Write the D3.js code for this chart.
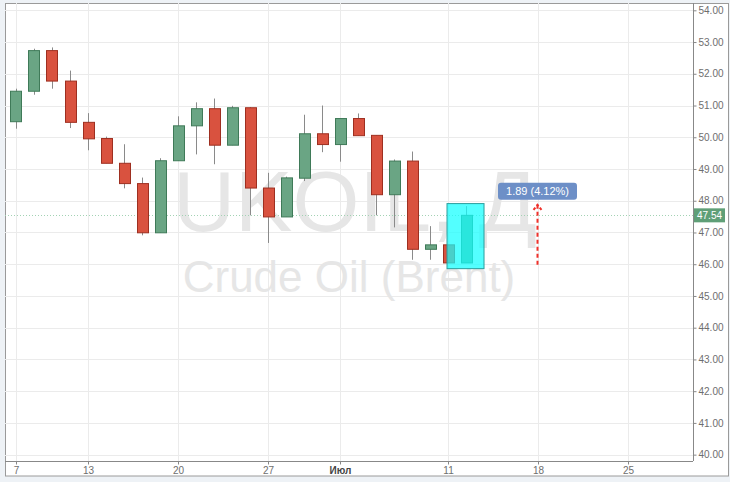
<!DOCTYPE html>
<html>
<head>
<meta charset="utf-8">
<script src="https://cdn.jsdelivr.net/npm/d3@7"></script>
<style>
  html, body { margin: 0; padding: 0; background: #eef2f6; }
  svg { display: block; }
</style>
</head>
<body>
<svg id="chart" width="730" height="482"></svg>
<script>
// candles (UKOIL daily)
const dates = ["06-07","06-08","06-09","06-10","06-13","06-14","06-15","06-16","06-17",
  "06-20","06-21","06-22","06-23","06-24","06-27","06-28","06-29","06-30","07-01",
  "07-04","07-05","07-06","07-07","07-08","07-11","07-12"];
const opens  = [50.49,51.45,52.73,51.77,50.47,49.96,49.18,48.54,46.99,49.26,50.36,50.90,49.75,
  50.93,48.40,47.49,48.71,50.11,49.77,50.59,50.06,48.19,49.25,46.47,46.61,46.04];
const highs  = [51.53,52.79,52.83,52.10,50.76,50.02,49.78,48.73,49.34,50.66,51.10,51.22,50.99,
  50.95,48.88,48.76,50.71,51.00,50.59,50.75,50.06,49.30,49.55,47.20,46.61,47.83];
const lows   = [50.27,51.34,51.53,50.29,49.59,49.18,48.39,46.91,46.99,49.26,49.46,49.15,49.75,
  47.54,46.67,47.49,48.62,49.53,49.23,50.05,47.54,47.16,46.14,46.14,46.04,46.04];
const closes = [51.45,52.73,51.77,50.47,49.95,49.18,48.54,46.99,49.26,50.36,50.90,49.75,50.93,
  48.40,47.49,48.72,50.11,49.77,50.59,50.05,48.19,49.25,46.47,46.61,46.04,47.54];

// x axis: trading-day index of each label
const tickIdx = [0, 4, 9, 14, 18, 24, 29, 34];
const tickLabels = ["7", "13", "20", "27", "Июл", "11", "18", "25"];
const priceTicks = [40,41,42,43,44,45,46,47,48,49,50,51,52,53,54];

const lastPrice = 47.54;
// drawing objects
const boxFrom = 24, boxTo = 26, boxTop = 47.91, boxBottom = 45.86;
const measureIdx = 29, measureFrom = 45.98, measureTo = 47.87;
const measureText = "1.89 (4.12%)";

const svg = d3.select("#chart");
const plotLeft = 5, plotRight = 693, plotTop = 3, plotBottom = 461;
const axisFont = "'Liberation Sans Narrow', 'Liberation Sans', Arial, sans-serif";

const x = d3.scaleLinear().domain([-0.611, 37.61]).range([plotLeft, plotRight]);
const y = d3.scaleLinear().domain([39.8, 54.23]).range([plotBottom, plotTop]);

// frame
svg.append("rect")
  .attr("x", 5.5).attr("y", 3.5).attr("width", 723).attr("height", 472.5)
  .attr("fill", "#fff").attr("stroke", "#9a9a9a");

// grid
svg.append("g").selectAll("line")
  .data(priceTicks)
  .join("line")
  .attr("x1", plotLeft).attr("x2", plotRight)
  .attr("y1", d => Math.round(y(d)) + 0.5).attr("y2", d => Math.round(y(d)) + 0.5)
  .attr("stroke", "#ebebeb");

svg.append("g").selectAll("line")
  .data(tickIdx)
  .join("line")
  .attr("x1", d => Math.round(x(d)) + 0.5).attr("x2", d => Math.round(x(d)) + 0.5)
  .attr("y1", plotTop).attr("y2", plotBottom)
  .attr("stroke", "#ebebeb");

// watermark
svg.append("text")
  .attr("x", 355).attr("y", 231)
  .attr("text-anchor", "middle")
  .style("font-family", "'Liberation Sans', Arial, sans-serif")
  .style("font-size", "86px")
  .style("fill", "#e6e6e6")
  .text("UKOIL, Д");

svg.append("text")
  .attr("x", 349).attr("y", 292)
  .attr("text-anchor", "middle")
  .style("font-family", "'Liberation Sans', Arial, sans-serif")
  .style("font-size", "44px")
  .style("fill", "#e6e6e6")
  .text("Crude Oil (Brent)");

// current price line
svg.append("line")
  .attr("x1", plotLeft).attr("x2", plotRight)
  .attr("y1", Math.round(y(lastPrice)) + 0.5).attr("y2", Math.round(y(lastPrice)) + 0.5)
  .attr("stroke", "#a3d2b4")
  .attr("stroke-dasharray", "1,2");

// candles
const candles = dates.map((d, i) => ({ i, o: opens[i], h: highs[i], l: lows[i], c: closes[i] }));
const bw = 11;

const cg = svg.append("g");
cg.selectAll("line")
  .data(candles)
  .join("line")
  .attr("x1", d => Math.round(x(d.i)) + 0.5).attr("x2", d => Math.round(x(d.i)) + 0.5)
  .attr("y1", d => y(d.h)).attr("y2", d => y(d.l))
  .attr("stroke", "#8a8a8a");

cg.selectAll("rect")
  .data(candles)
  .join("rect")
  .attr("x", d => Math.round(x(d.i) - bw / 2) + 0.5)
  .attr("y", d => y(Math.max(d.o, d.c)))
  .attr("width", bw)
  .attr("height", d => Math.max(1, y(Math.min(d.o, d.c)) - y(Math.max(d.o, d.c))))
  .attr("fill", d => d.c >= d.o ? "#6aa584" : "#d9523f")
  .attr("stroke", d => d.c >= d.o ? "#3f7a58" : "#9e2f20");

// highlight box
svg.append("rect")
  .attr("x", x(boxFrom) - 1).attr("y", y(boxTop))
  .attr("width", x(boxTo) - x(boxFrom) + 1)
  .attr("height", y(boxBottom) - y(boxTop))
  .attr("fill", "#10ffff").attr("fill-opacity", 0.72)
  .attr("stroke", "#2a9d9d");

// measure arrow
const mx = Math.round(x(measureIdx)) - 0.5;
svg.append("line")
  .attr("x1", mx).attr("x2", mx)
  .attr("y1", y(measureFrom)).attr("y2", y(measureTo))
  .attr("stroke", "#f0302a").attr("stroke-width", 2)
  .attr("stroke-dasharray", "4,3");

svg.append("path")
  .attr("d", `M${mx - 4},${y(measureTo) + 5}L${mx},${y(measureTo)}L${mx + 4},${y(measureTo) + 5}`)
  .attr("fill", "none")
  .attr("stroke", "#f0302a").attr("stroke-width", 2)
  .attr("stroke-dasharray", "3,2");

// measure label
const label = svg.append("g").attr("transform", `translate(${mx},${y(measureTo) - 22})`);
label.append("rect")
  .attr("x", -39.5).attr("y", 0)
  .attr("width", 79).attr("height", 17).attr("rx", 3)
  .attr("fill", "#6d8fc7");
label.append("text")
  .attr("x", 0).attr("y", 12.5)
  .attr("text-anchor", "middle")
  .style("font-family", "'Liberation Sans', Arial, sans-serif")
  .style("font-size", "11px")
  .style("fill", "#fff")
  .text(measureText);

// Add y-axis (right)
const yAxis = svg.append("g")
  .attr("transform", `translate(${plotRight + 0.5},0)`)
  .call(d3.axisRight(y).tickValues(priceTicks).tickFormat(d3.format(".2f")).tickSize(3).tickPadding(2));
yAxis.select(".domain").attr("stroke", "#888").attr("d", `M0,${plotTop}V${plotBottom}`);
yAxis.selectAll(".tick line").attr("stroke", "#888");
yAxis.selectAll("text")
  .style("fill", "#6e6e6e")
  .style("font-family", axisFont)
  .style("font-size", "10px");

// Add x-axis
const xAxis = svg.append("g")
  .attr("transform", `translate(0,${plotBottom + 0.5})`)
  .call(d3.axisBottom(x).tickValues(tickIdx).tickFormat((d, i) => tickLabels[i]).tickSize(3).tickPadding(2));
xAxis.select(".domain").attr("stroke", "#888").attr("d", `M${plotLeft},0H${plotRight}`);
xAxis.selectAll(".tick line").attr("stroke", "#888");
xAxis.selectAll("text")
  .style("fill", (d, i) => tickLabels[i] === "Июл" ? "#444" : "#6e6e6e")
  .style("font-weight", (d, i) => tickLabels[i] === "Июл" ? "bold" : "normal")
  .style("font-family", axisFont)
  .style("font-size", "10px");

// last price tag
const tag = svg.append("g").attr("transform", `translate(${plotRight + 1},${y(lastPrice)})`);
tag.append("rect")
  .attr("x", 0).attr("y", -7)
  .attr("width", 31).attr("height", 14)
  .attr("fill", "#5f9f77");
tag.append("text")
  .attr("x", 3).attr("y", 3.5)
  .style("fill", "#fff")
  .style("font-family", axisFont)
  .style("font-size", "10px")
  .text(d3.format(".2f")(lastPrice));
</script>
</body>
</html>
